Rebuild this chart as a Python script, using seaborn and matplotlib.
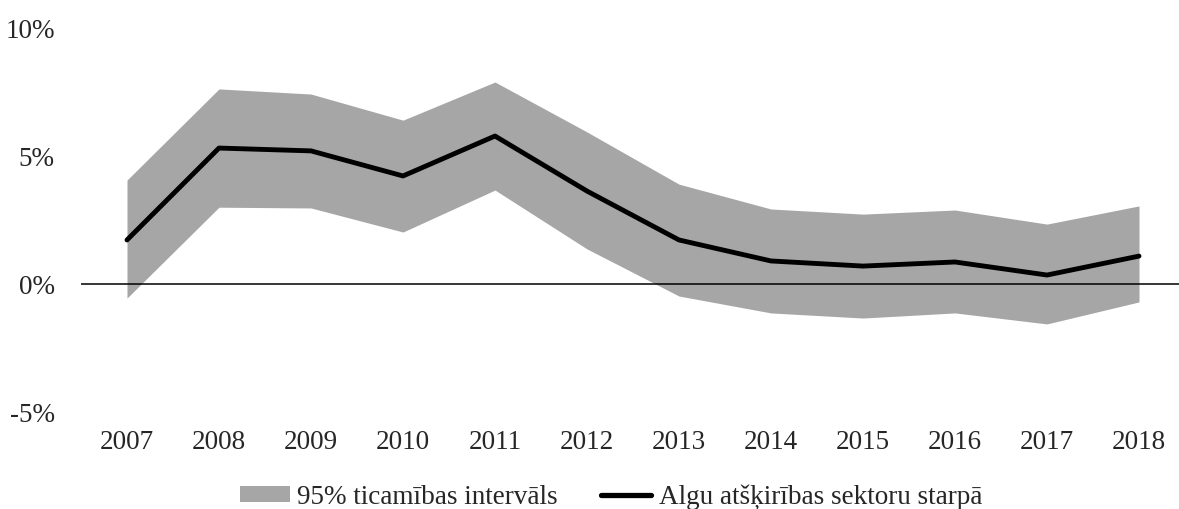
import numpy as np
import pandas as pd
import seaborn as sns
import matplotlib
matplotlib.use('Agg')
import matplotlib.pyplot as plt
from matplotlib import patches
from matplotlib.lines import Line2D
from matplotlib.ticker import FuncFormatter

years = [2007, 2008, 2009, 2010, 2011, 2012, 2013, 2014, 2015, 2016, 2017, 2018]
gap = [1.72, 5.31, 5.20, 4.22, 5.78, 3.63, 1.72, 0.90, 0.70, 0.86, 0.35, 1.09]
upper = [4.06, 7.62, 7.42, 6.40, 7.89, 5.94, 3.90, 2.93, 2.73, 2.89, 2.34, 3.05]
lower = [-0.55, 3.00, 2.97, 2.03, 3.67, 1.37, -0.47, -1.13, -1.33, -1.13, -1.56, -0.70]

band_label = "95% ticamības intervāls"
line_label = "Algu atšķirības sektoru starpā"

df = pd.DataFrame({"year": years, "gap": gap, "upper": upper, "lower": lower})

sns.set_style("white")
plt.rcParams['font.family'] = ['Liberation Serif', 'DejaVu Serif']
FS = 19.5

fig = plt.figure(figsize=(11.79, 5.09), dpi=100)
ax = fig.add_axes([81 / 1179, 1 - 412 / 509, 1 - 81 / 1179, (412 - 28) / 509])

ax.fill_between(df["year"], df["lower"], df["upper"], color="#a6a6a6", linewidth=0)
ax.axhline(0, color="black", linewidth=1.1)
sns.lineplot(data=df, x="year", y="gap", color="black", linewidth=3.5, ax=ax,
             legend=False, solid_capstyle="round")

ax.set_xlim(2006.5, 2006.5 + (1179 - 81) / 92)
ax.set_ylim(-5, 10)
ax.set_xticks(years)
ax.set_yticks([-5, 0, 5, 10])
ax.yaxis.set_major_formatter(FuncFormatter(lambda v, _: f"{v:.0f}%"))
ax.tick_params(axis="both", length=0, labelsize=FS)
ax.tick_params(axis="y", pad=19)
ax.tick_params(axis="x", pad=13)
ax.set_xlabel("")
ax.set_ylabel("")
sns.despine(ax=ax, left=True, bottom=True)

handles = [patches.Patch(facecolor="#a6a6a6", edgecolor="none"),
           Line2D([0], [0], color="black", linewidth=3.8)]
fig.legend(handles, [band_label, line_label], loc="center", ncol=2,
           bbox_to_anchor=(611 / 1179, 1 - 497 / 509), frameon=False,
           fontsize=FS, handlelength=1.85, handleheight=0.5,
           handletextpad=0.28, columnspacing=1.6, borderpad=0)

fig.savefig("out.png", dpi=100)
